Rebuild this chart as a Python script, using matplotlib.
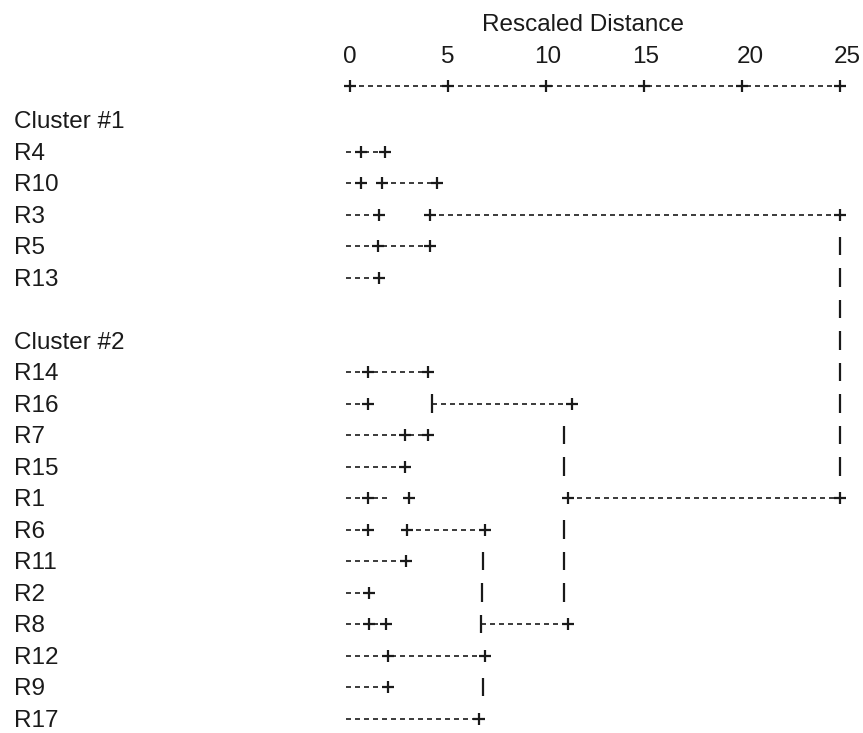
import matplotlib
matplotlib.use("Agg")
import matplotlib.pyplot as plt

# rows of the text dendrogram, top to bottom
row_labels = ["Cluster #1", "R4", "R10", "R3", "R5", "R13", "",
              "Cluster #2", "R14", "R16", "R7", "R15", "R1", "R6",
              "R11", "R2", "R8", "R12", "R9", "R17"]

# rescaled distance axis
tick_values = [0, 5, 10, 15, 20, 25]
tick_labels = ["0", "5", "10", "15", "20", "25"]
tick_label_pos = [0, 5, 10.1, 15.1, 20.4, 25.35]

# dashed runs per row: (row, start, end) in rescaled distance
dash_runs = [
    ("R4", -0.2, 1.8),
    ("R10", -0.2, 0.55), ("R10", 1.65, 4.45),
    ("R3", -0.2, 1.5), ("R3", 4.1, 25.0),
    ("R5", -0.2, 4.1),
    ("R13", -0.2, 1.5),
    ("R14", -0.2, 4.0),
    ("R16", -0.2, 0.9), ("R16", 4.2, 11.3),
    ("R7", -0.2, 4.0),
    ("R15", -0.2, 2.8),
    ("R1", -0.2, 2.0), ("R1", 11.1, 25.0),
    ("R6", -0.2, 0.9), ("R6", 2.9, 6.9),
    ("R11", -0.2, 2.85),
    ("R2", -0.2, 0.95),
    ("R8", -0.2, 1.85), ("R8", 6.7, 11.1),
    ("R12", -0.2, 6.9),
    ("R9", -0.2, 1.95),
    ("R17", -0.2, 6.6),
]

# "+" joints per row
plus_marks = [
    ("R4", 0.55), ("R4", 1.8),
    ("R10", 0.55), ("R10", 1.65), ("R10", 4.45),
    ("R3", 1.5), ("R3", 4.1), ("R3", 25.0),
    ("R5", 1.45), ("R5", 4.1),
    ("R13", 1.5),
    ("R14", 0.9), ("R14", 4.0),
    ("R16", 0.9), ("R16", 11.3),
    ("R7", 2.8), ("R7", 4.0),
    ("R15", 2.8),
    ("R1", 0.9), ("R1", 3.0), ("R1", 11.1), ("R1", 25.0),
    ("R6", 0.9), ("R6", 2.9), ("R6", 6.9),
    ("R11", 2.85),
    ("R2", 0.95),
    ("R8", 0.95), ("R8", 1.85), ("R8", 11.1),
    ("R12", 1.95), ("R12", 6.9),
    ("R9", 1.95),
    ("R17", 6.6),
]

# "|" connectors per row
bar_marks = [
    ("R5", 25.0), ("R13", 25.0), ("", 25.0), ("Cluster #2", 25.0),
    ("R14", 25.0), ("R16", 25.0), ("R7", 25.0), ("R15", 25.0),
    ("R16", 4.2),
    ("R7", 10.9), ("R15", 10.9), ("R6", 10.9), ("R11", 10.9), ("R2", 10.9),
    ("R11", 6.8), ("R2", 6.75), ("R8", 6.7), ("R9", 6.8),
]

row_y = {lab: i for i, lab in enumerate(row_labels)}
axis_y = -1.08
ink = "#1a1a1a"
dash_style = (0, (3.0, 2.4))
font = "Liberation Sans"

fig = plt.figure(figsize=(8.63, 7.33), dpi=100)
ax = fig.add_axes([0, 0, 1, 1])
ax.set_xlim(-17.857, 26.17)
ax.set_ylim(19.46, -3.81)
ax.axis("off")

ax.text(11.9, -2.83, "Rescaled Distance", ha="center", va="baseline",
        fontsize=17.5, family=font, color=ink)
for pos, lab in zip(tick_label_pos, tick_labels):
    ax.text(pos, -1.81, lab, ha="center", va="baseline",
            fontsize=17.5, family=font, color=ink)

ax.plot([tick_values[0], tick_values[-1]], [axis_y, axis_y],
        color=ink, lw=1.2, linestyle=dash_style)
ax.plot(tick_values, [axis_y] * len(tick_values), "+", color=ink, ms=9, mew=1.6)

for lab, y in row_y.items():
    if lab:
        ax.text(-17.15, y + 0.26, lab, ha="left", va="baseline",
                fontsize=17.5, family=font, color=ink)

for lab, x0, x1 in dash_runs:
    y = row_y[lab]
    ax.plot([x0, x1], [y, y], color=ink, lw=1.2, linestyle=dash_style)

px = [x for _, x in plus_marks]
py = [row_y[lab] for lab, _ in plus_marks]
ax.plot(px, py, "+", color=ink, ms=9, mew=1.6)

bx = [x for _, x in bar_marks]
by = [row_y[lab] for lab, _ in bar_marks]
ax.vlines(bx, [y - 0.3 for y in by], [y + 0.3 for y in by], color=ink, lw=1.6)

fig.savefig("out.png", dpi=100)
plt.close(fig)
